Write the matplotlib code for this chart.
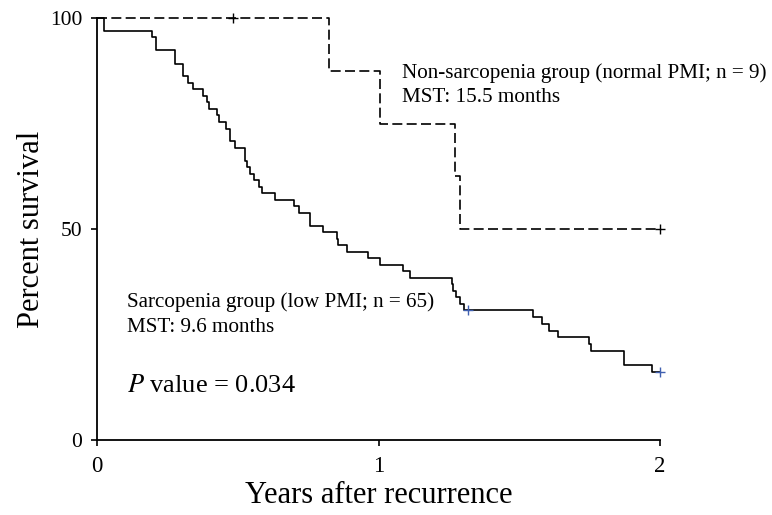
import matplotlib
matplotlib.use("Agg")
from matplotlib import pyplot as plt

# Kaplan-Meier curves (years, percent survival)
sarc_times = [0, 0.025, 0.194, 0.21, 0.277, 0.307, 0.324, 0.342, 0.378, 0.39,
              0.399, 0.425, 0.434, 0.458, 0.472, 0.49, 0.526, 0.534, 0.543, 0.559,
              0.577, 0.585, 0.632, 0.70, 0.719, 0.757, 0.804, 0.851, 0.857, 0.887,
              0.964, 1.005, 1.088, 1.112, 1.26, 1.266, 1.277, 1.29, 1.305, 1.548,
              1.580, 1.607, 1.639, 1.749, 1.755, 1.872, 1.973, 2.0]
sarc_surv = [100, 96.9, 95.4, 92.3, 89.2, 86.2, 84.6, 83.1, 81.5, 80.0,
             78.5, 76.9, 75.4, 73.8, 70.8, 69.2, 66.2, 64.6, 63.1, 61.5,
             60.0, 58.5, 56.9, 55.4, 53.8, 50.8, 49.2, 47.7, 46.2, 44.6,
             43.1, 41.5, 40.0, 38.5, 36.9, 35.4, 33.8, 32.3, 30.8, 29.2,
             27.6, 25.9, 24.3, 22.7, 21.1, 17.8, 16.2, 16.2]
sarc_cens_t = [1.319, 2.0]
sarc_cens_s = [30.8, 16.2]

non_times = [0, 0.824, 1.005, 1.272, 1.29, 2.0]
non_surv = [100, 87.5, 75, 62.5, 50, 50]
non_cens_t = [0.483, 2.0]
non_cens_s = [100, 50]

x_ticks = [0, 1, 2]
y_ticks = [0, 50, 100]

plt.rcParams["font.family"] = ["Liberation Serif", "DejaVu Serif"]
plt.rcParams["mathtext.fontset"] = "stix"

fig = plt.figure(figsize=(7.72, 5.15), dpi=100)
ax = fig.add_axes([97 / 772, 75 / 515, 563 / 772, 422 / 515])

# non-sarcopenia (dashed)
ax.plot(non_times, non_surv, drawstyle="steps-post", color="black",
        lw=1.2, dashes=(6, 2.6), clip_on=False)
ax.plot(non_cens_t, non_cens_s, "+", color="black", ms=7, mew=1, clip_on=False)

# sarcopenia (solid)
ax.plot(sarc_times, sarc_surv, drawstyle="steps-post", color="black",
        lw=1.2, clip_on=False)
ax.plot(sarc_cens_t, sarc_cens_s, "+", color="#4060b0", ms=7, mew=1, clip_on=False)

ax.set_xlim(0, 2)
ax.set_ylim(0, 100)
ax.set_xticks(x_ticks)
ax.set_yticks(y_ticks)
ax.tick_params(direction="out", length=4.5, width=1.2)
ax.tick_params(axis="x", pad=7, labelsize=16.5)
ax.tick_params(axis="y", pad=6, labelsize=15.5)
for side in ["top", "right"]:
    ax.spines[side].set_visible(False)
for side in ["left", "bottom"]:
    ax.spines[side].set_linewidth(1.3)

ax.set_xlabel("Years after recurrence", fontsize=22, labelpad=3)
ax.set_ylabel("Percent survival", fontsize=22, labelpad=3)

ax.text(1.083, 85.85, "Non-sarcopenia group (normal PMI; n = 9)", fontsize=15.2)
ax.text(1.083, 80.2, "MST: 15.5 months", fontsize=15.2)
ax.text(0.105, 31.6, "Sarcopenia group (low PMI; n = 65)", fontsize=15.2)
ax.text(0.105, 25.7, "MST: 9.6 months", fontsize=15.2)
ax.text(0.105, 11.45, r"$P$ value = 0.034", fontsize=19)

fig.savefig("out.png", dpi=100)
